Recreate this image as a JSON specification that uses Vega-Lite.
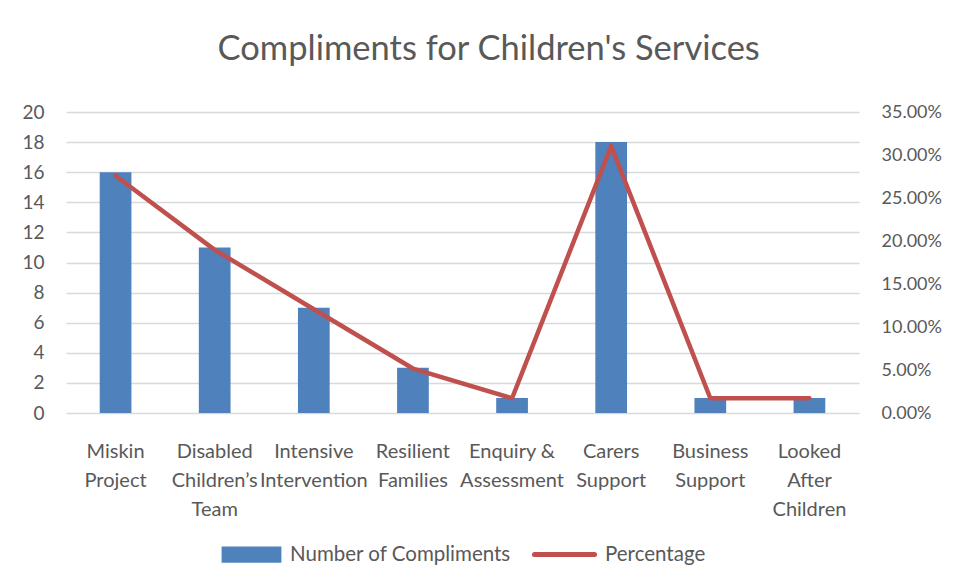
{
  "$schema": "https://vega.github.io/schema/vega-lite/v6.json",
  "width": 793,
  "height": 301,
  "padding": {"left": 21, "top": 31, "right": 4, "bottom": 4},
  "background": "white",
  "title": {
    "text": "Compliments for Children's Services",
    "fontSize": 34.5,
    "font": "Lato",
    "fontWeight": "normal",
    "color": "#595959",
    "anchor": "middle",
    "frame": "bounds",
    "offset": 36,
    "dx": 7
  },
  "data": {
    "values": [
      {"team": "Miskin Project", "count": 16, "pct": 0.2759},
      {"team": "Disabled Children’s Team", "count": 11, "pct": 0.1897},
      {"team": "Intensive Intervention", "count": 7, "pct": 0.1207},
      {"team": "Resilient Families", "count": 3, "pct": 0.0517},
      {"team": "Enquiry & Assessment", "count": 1, "pct": 0.0172},
      {"team": "Carers Support", "count": 18, "pct": 0.3103},
      {"team": "Business Support", "count": 1, "pct": 0.0172},
      {"team": "Looked After Children", "count": 1, "pct": 0.0172}
    ]
  },
  "encoding": {
    "x": {
      "field": "team",
      "type": "nominal",
      "sort": null,
      "scale": {"paddingInner": 0.68, "paddingOuter": 0.34},
      "axis": {
        "title": null,
        "labelAngle": 0,
        "labelFontSize": 20,
        "labelLineHeight": 29,
        "labelPadding": 28,
        "ticks": false,
        "domain": false,
        "labelLimit": 200,
        "labelExpr": "datum.label == 'Enquiry & Assessment' ? ['Enquiry &', 'Assessment'] : split(datum.label, ' ')"
      }
    }
  },
  "layer": [
    {
      "mark": {"type": "bar"},
      "encoding": {
        "y": {
          "field": "count",
          "type": "quantitative",
          "scale": {"domain": [0, 20]},
          "axis": {
            "title": null,
            "values": [0, 2, 4, 6, 8, 10, 12, 14, 16, 18, 20],
            "labelFontSize": 19,
            "labelPadding": 22,
            "ticks": false,
            "domain": false,
            "grid": true,
            "gridColor": "#d9d9d9",
            "gridWidth": 1.3
          }
        },
        "fill": {
          "datum": "Number of Compliments",
          "type": "nominal",
          "scale": {"range": ["#4f81bd"]},
          "legend": {
            "title": null,
            "symbolType": "M-0.92,-0.25H0.92V0.25H-0.92Z",
            "symbolSize": 4225,
            "symbolStrokeWidth": 0,
            "labelOffset": 6
          }
        }
      }
    },
    {
      "mark": {"type": "line", "strokeWidth": 4.5, "strokeCap": "round", "strokeJoin": "round"},
      "encoding": {
        "y": {
          "field": "pct",
          "type": "quantitative",
          "scale": {"domain": [0, 0.35]},
          "axis": {
            "title": null,
            "orient": "right",
            "format": ".2%",
            "values": [0, 0.05, 0.1, 0.15, 0.2, 0.25, 0.3, 0.35],
            "labelFontSize": 18,
            "labelPadding": 22,
            "ticks": false,
            "domain": false,
            "grid": false
          }
        },
        "stroke": {
          "datum": "Percentage",
          "type": "nominal",
          "scale": {"range": ["#c0504d"]},
          "legend": {
            "title": null,
            "symbolType": "stroke",
            "symbolSize": 3600,
            "symbolStrokeWidth": 5,
            "labelOffset": 8,
            "encode": {"symbols": {"update": {"strokeCap": {"value": "round"}}}}
          }
        }
      }
    }
  ],
  "resolve": {"scale": {"y": "independent"}},
  "config": {
    "font": "Lato",
    "view": {"stroke": null},
    "axis": {"labelColor": "#595959", "labelFont": "Lato"},
    "legend": {
      "orient": "bottom",
      "direction": "horizontal",
      "labelFontSize": 20.5,
      "labelColor": "#595959",
      "labelFont": "Lato",
      "labelLimit": 400,
      "offset": 3,
      "layout": {"bottom": {"anchor": "middle", "direction": "horizontal", "margin": 20}}
    }
  }
}
